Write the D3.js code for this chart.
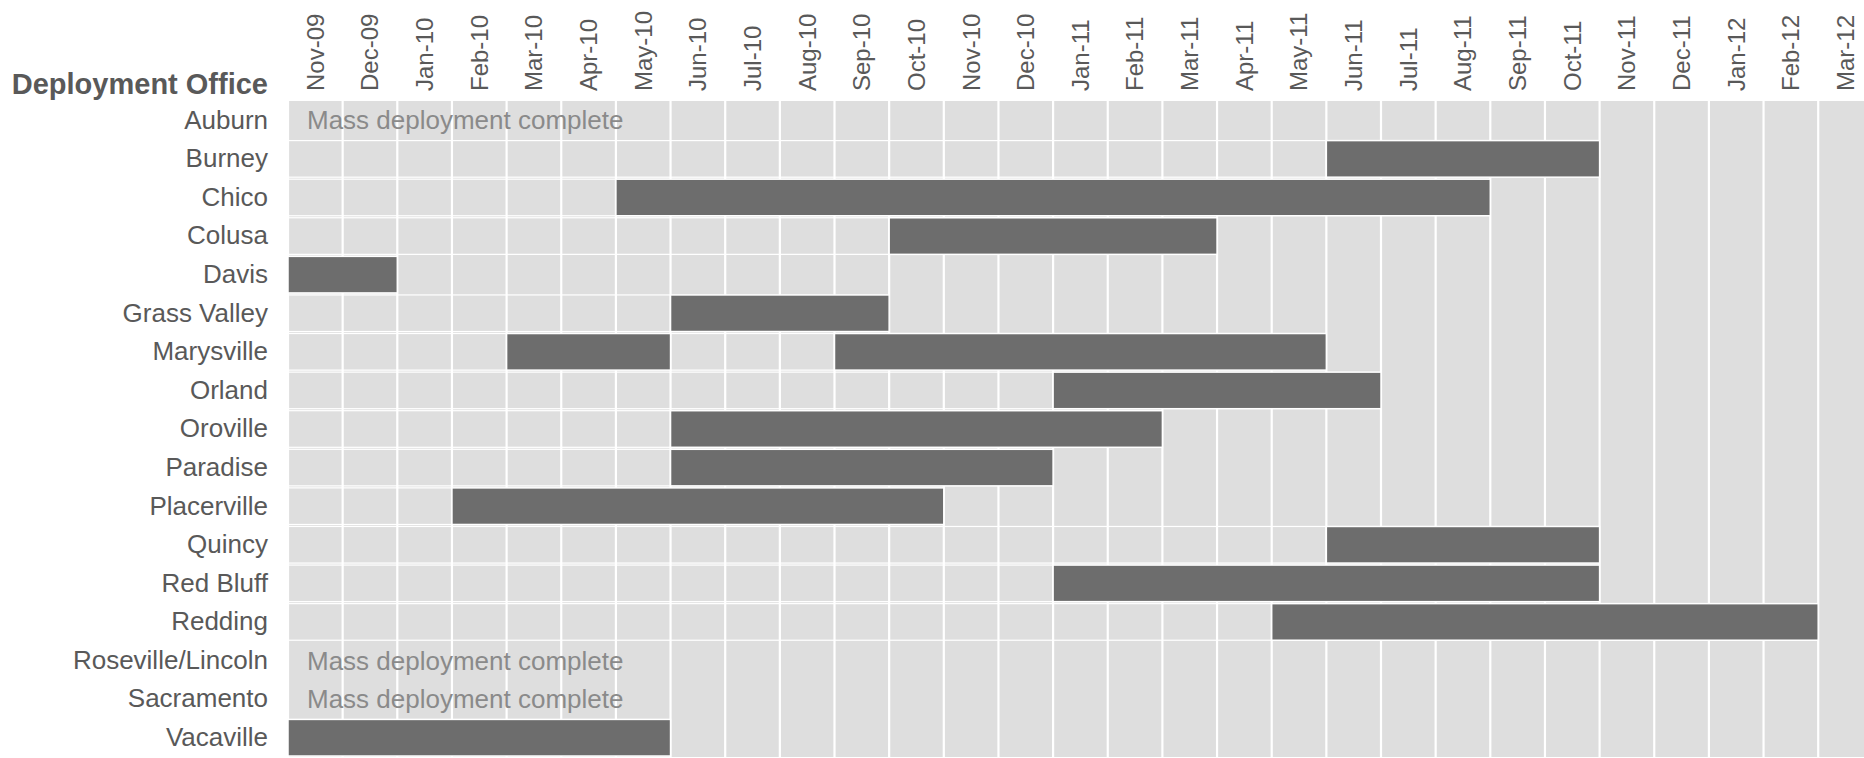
<!DOCTYPE html>
<html>
<head>
<meta charset="utf-8">
<script src="https://cdn.jsdelivr.net/npm/d3@7"></script>
<style>
  body { margin: 0; background: #fff; }
  svg { display: block; font-family: "Liberation Sans", Arial, sans-serif; }
</style>
</head>
<body>
<script>
// months on the top axis
var months = ["Nov-09","Dec-09","Jan-10","Feb-10","Mar-10","Apr-10","May-10","Jun-10","Jul-10","Aug-10",
  "Sep-10","Oct-10","Nov-10","Dec-10","Jan-11","Feb-11","Mar-11","Apr-11","May-11","Jun-11","Jul-11",
  "Aug-11","Sep-11","Oct-11","Nov-11","Dec-11","Jan-12","Feb-12","Mar-12"];

var offices = ["Auburn","Burney","Chico","Colusa","Davis","Grass Valley","Marysville","Orland","Oroville",
  "Paradise","Placerville","Quincy","Red Bluff","Redding","Roseville/Lincoln","Sacramento","Vacaville"];

// deployment periods (first month, last month, inclusive)
var barOffice = ["Burney","Chico","Colusa","Davis","Grass Valley","Marysville","Marysville","Orland",
  "Oroville","Paradise","Placerville","Quincy","Red Bluff","Redding","Vacaville"];
var barStart  = ["Jun-11","May-10","Oct-10","Nov-09","Jun-10","Mar-10","Sep-10","Jan-11",
  "Jun-10","Jun-10","Feb-10","Jun-11","Jan-11","May-11","Nov-09"];
var barEnd    = ["Oct-11","Aug-11","Mar-11","Dec-09","Sep-10","May-10","May-11","Jun-11",
  "Feb-11","Dec-10","Oct-10","Oct-11","Oct-11","Feb-12","May-10"];

var doneOffices = ["Auburn","Roseville/Lincoln","Sacramento"];
var doneText = "Mass deployment complete";

var W = 1864, H = 758;
var plotLeft = 288, plotTop = 101, colW = 54.65, plotBottom = 757;

var svg = d3.select("body").append("svg")
    .attr("width", W)
    .attr("height", H);

// scales
var x = d3.scaleBand().domain(months).range([plotLeft, plotLeft + months.length * colW]);
var y = d3.scaleBand().domain(offices).range([plotTop, plotBottom]);

// column background
svg.append("g").selectAll("rect")
  .data(months)
  .enter().append("rect")
    .attr("x", function(d) { return x(d) + 1.1; })
    .attr("y", plotTop)
    .attr("width", x.bandwidth() - 2.2)
    .attr("height", plotBottom - plotTop)
    .attr("fill", "#dedede");

// build segments
var bars = barOffice.map(function(o, i) {
  return { office: o, s: months.indexOf(barStart[i]), e: months.indexOf(barEnd[i]) + 1 };
});

// empty offset segments with white outline (stacked-bar look)
var offs = [];
offices.forEach(function(o) {
  var segs = bars.filter(function(b) { return b.office == o; })
    .sort(function(a, b) { return a.s - b.s; });
  var prev = 0;
  segs.forEach(function(b) {
    if (b.s > prev) offs.push({ office: o, s: prev, e: b.s });
    prev = b.e;
  });
});

function xi(i) { return plotLeft + i * colW; }

svg.append("g").selectAll("rect")
  .data(offs)
  .enter().append("rect")
    .attr("x", function(d) { return xi(d.s); })
    .attr("y", function(d) { return y(d.office) + 1; })
    .attr("width", function(d) { return xi(d.e) - xi(d.s); })
    .attr("height", y.bandwidth() - 2)
    .attr("fill", "none")
    .attr("stroke", "#ffffff")
    .attr("stroke-width", 1.2);

svg.append("g").selectAll("rect")
  .data(bars)
  .enter().append("rect")
    .attr("x", function(d) { return xi(d.s); })
    .attr("y", function(d) { return y(d.office) + 1; })
    .attr("width", function(d) { return xi(d.e) - xi(d.s); })
    .attr("height", y.bandwidth() - 2)
    .attr("fill", "#6d6d6d")
    .attr("stroke", "#ffffff")
    .attr("stroke-width", 1.5);

// "Mass deployment complete" notes
svg.append("g").selectAll("text")
  .data(doneOffices)
  .enter().append("text")
    .attr("x", 307)
    .attr("y", function(d) { return y(d) + y.bandwidth() / 2; })
    .attr("dy", "0.35em")
    .style("font-size", "26px")
    .attr("fill", "#8a8a8a")
    .text(doneText);

// row labels
var yAxis = svg.append("g")
    .attr("transform", "translate(268,0)")
    .call(d3.axisLeft(y).tickSize(0).tickPadding(0));
yAxis.select(".domain").remove();
yAxis.selectAll("text")
    .style("font-size", "26px")
    .style("font-family", "'Liberation Sans', Arial, sans-serif")
    .attr("fill", "#595959");

// month labels, rotated
var xAxis = svg.append("g")
    .attr("transform", "translate(0,91)")
    .call(d3.axisTop(x).tickSize(0).tickPadding(0));
xAxis.select(".domain").remove();
xAxis.selectAll("text")
    .attr("transform", "rotate(-90)")
    .attr("x", 0)
    .attr("y", 0)
    .attr("dy", "0.35em")
    .style("text-anchor", "start")
    .style("font-size", "24px")
    .style("font-family", "'Liberation Sans', Arial, sans-serif")
    .attr("fill", "#595959");

// header
svg.append("text")
  .attr("x", 268)
  .attr("y", 94)
  .attr("text-anchor", "end")
  .style("font-size", "29px")
  .style("font-weight", "bold")
  .attr("fill", "#595959")
  .text("Deployment Office");
</script>
</body>
</html>
